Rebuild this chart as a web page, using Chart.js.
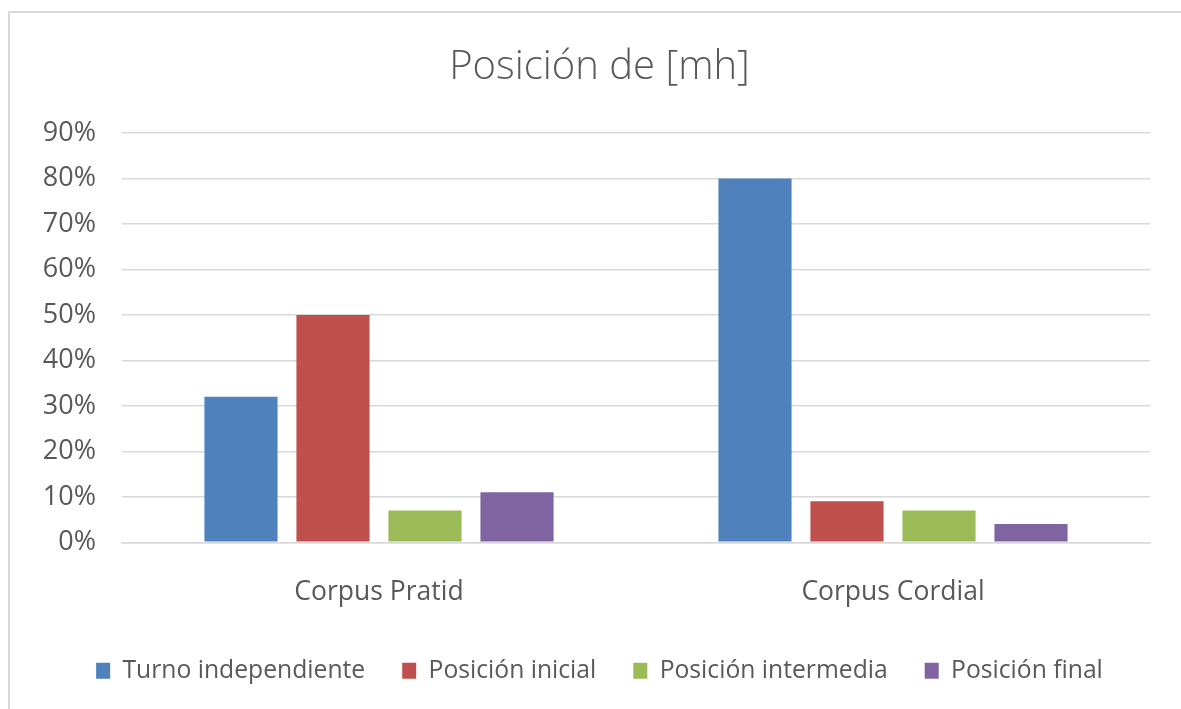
<!DOCTYPE html>
<html>
<head>
<meta charset="utf-8">
<script src="https://cdn.jsdelivr.net/npm/chart.js@4/dist/chart.umd.min.js"></script>
<style>
  html, body { margin: 0; padding: 0; background: #ffffff; overflow: hidden; }
  #wrap { position: relative; width: 1181px; height: 709px; }
  #marco { position: absolute; left: 8px; top: 11px; width: 1200px; height: 720px;
           border-top: 2px solid #d9d9d9; border-left: 2px solid #d9d9d9; pointer-events: none; }
</style>
</head>
<body>
<div id="wrap">
  <canvas id="grafico" width="1181" height="709"></canvas>
  <div id="marco"></div>
</div>
<script>
// ---- datos ----
const categorias = ["Corpus Pratid", "Corpus Cordial"];
const turnoIndependiente = [32, 80];
const posicionInicial = [50, 9];
const posicionIntermedia = [7, 7];
const posicionFinal = [11, 4];
const ticksY = [0, 10, 20, 30, 40, 50, 60, 70, 80, 90];

const FUENTE = "'Open Sans', 'DejaVu Sans', sans-serif";
const GRIS = "#595959";

function serie(label, data, color) {
    return { label, data, backgroundColor: color, borderWidth: 0,
             categoryPercentage: 0.716, barPercentage: 0.795 };
}

new Chart(document.getElementById("grafico"), {
    type: "bar",
    data: {
        labels: categorias,
        datasets: [
            serie("Turno independiente", turnoIndependiente, "#4f81bd"),
            serie("Posición inicial", posicionInicial, "#c0504d"),
            serie("Posición intermedia", posicionIntermedia, "#9bbb59"),
            serie("Posición final", posicionFinal, "#8064a2")
        ]
    },
    options: {
        responsive: false,
        animation: false,
        layout: { padding: { left: 18, right: 0, top: 0, bottom: 16 } },
        plugins: {
            title: {
                display: true,
                text: "Posición de [mh]",
                color: GRIS,
                font: { family: FUENTE, size: 40, weight: 300, lineHeight: 1.2 },
                padding: { top: 44, bottom: 41 }
            },
            legend: {
                position: "bottom",
                labels: {
                    color: GRIS,
                    font: { family: FUENTE, size: 24.7, lineHeight: 1 },
                    boxWidth: 14,
                    boxHeight: 16,
                    padding: 37
                }
            },
            tooltip: { enabled: false }
        },
        scales: {
            x: {
                grid: { display: false },
                border: { display: true, color: "#d9d9d9", width: 1.5 },
                ticks: { color: GRIS, font: { family: FUENTE, size: 26.5 }, padding: 26 },
                afterFit: s => { s.height = 79; }
            },
            y: {
                min: 0,
                max: 90,
                afterBuildTicks: s => { s.ticks = ticksY.map(v => ({ value: v })); },
                grid: { color: "#d9d9d9", lineWidth: 1.5, drawTicks: false },
                border: { display: false },
                ticks: { color: GRIS, font: { family: FUENTE, size: 27 }, padding: 26,
                         callback: v => v + "%" },
                afterFit: s => { s.width = 104; }
            },
            derecha: {
                position: "right",
                display: true,
                grid: { display: false },
                border: { display: false },
                ticks: { display: false },
                afterFit: s => { s.width = 31; }
            }
        }
    }
});
</script>
</body>
</html>
